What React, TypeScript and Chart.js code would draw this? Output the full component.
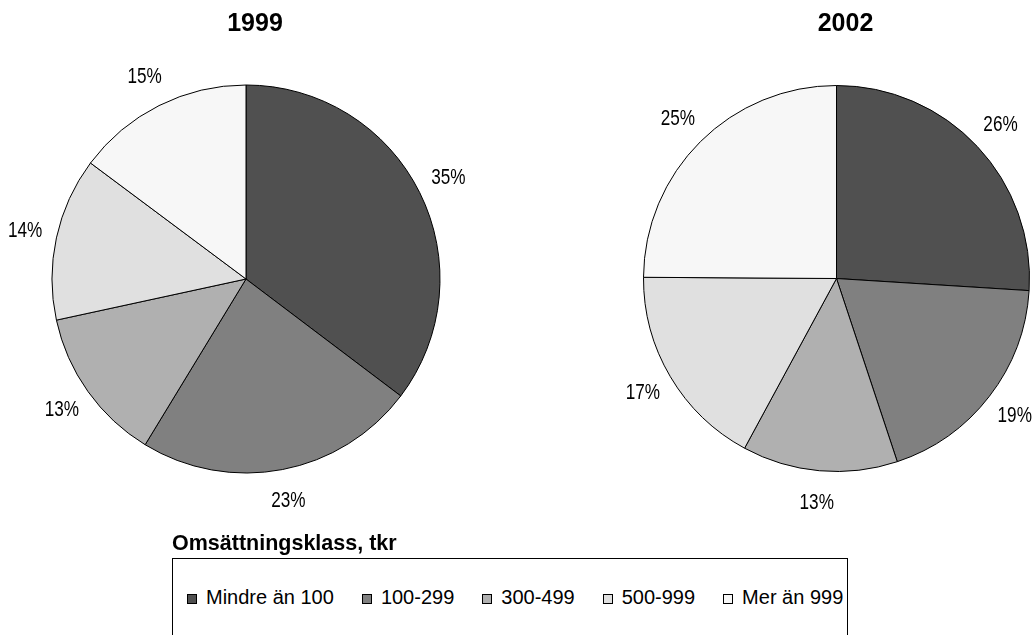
import React, { useEffect, useRef } from "react";
import { Chart, registerables } from "chart.js";

Chart.register(...registerables);

// ---- data (shares in %, labels show rounded values) ----
const categories = ["Mindre än 100", "100-299", "300-499", "500-999", "Mer än 999"];
const values1999 = [35.3, 23.4, 12.9, 13.6, 14.8];
const values2002 = [26.0, 18.9, 13.0, 17.2, 24.9];
const years = ["1999", "2002"];
const legendTitle = "Omsättningsklass, tkr";

// ---- styles ----
const colors = ["#505050", "#808080", "#b0b0b0", "#e0e0e0", "#f7f7f7"];
const FONT = '"Liberation Sans", Arial, Helvetica, sans-serif';

const pieDecor = {
  id: "pieDecor",
  afterDatasetsDraw(chart: any, _args: any, opts: any) {
    const ctx = chart.ctx;
    const meta = chart.getDatasetMeta(0);
    const data = chart.data.datasets[0].data;
    ctx.save();
    ctx.fillStyle = "#000";
    ctx.textAlign = "center";
    ctx.textBaseline = "middle";
    let cx = 0;
    meta.data.forEach((arc: any, i: number) => {
      const p = arc.getProps(["x", "y", "startAngle", "endAngle", "outerRadius"], true);
      cx = p.x;
      const mid = (p.startAngle + p.endAngle) / 2;
      const d = p.outerRadius + opts.labelOffset;
      const lx = p.x + Math.cos(mid) * d;
      const ly = p.y + Math.sin(mid) * d;
      ctx.save();
      ctx.translate(lx, ly);
      ctx.scale(opts.labelScaleX, 1);
      ctx.font = `22px ${FONT}`;
      ctx.fillText(`${Math.round(data[i])}%`, 0, 0);
      ctx.restore();
    });
    ctx.font = `bold 25px ${FONT}`;
    ctx.fillText(opts.title, cx + opts.titleDx, opts.titleY);
    ctx.restore();
  },
};

function PieCanvas(props: {
  values: number[];
  title: string;
  left: number;
  width: number;
  height: number;
  padding: { left: number; right: number; top: number; bottom: number };
  radius: number;
}) {
  const ref = useRef<HTMLCanvasElement | null>(null);
  useEffect(() => {
    if (!ref.current) return;
    const chart = new Chart(ref.current, {
      type: "pie",
      data: {
        labels: categories,
        datasets: [
          {
            data: props.values,
            backgroundColor: colors,
            borderColor: "#000",
            borderWidth: 1,
            radius: props.radius,
          } as any,
        ],
      },
      options: {
        animation: false,
        responsive: false,
        events: [],
        layout: { padding: props.padding },
        plugins: {
          legend: { display: false },
          tooltip: { enabled: false },
          pieDecor: { title: props.title, titleY: 24, titleDx: 9, labelOffset: 32, labelScaleX: 0.78 },
        } as any,
      },
      plugins: [pieDecor],
    });
    return () => chart.destroy();
  }, []);
  return (
    <canvas
      ref={ref}
      width={props.width}
      height={props.height}
      style={{ position: "absolute", left: props.left, top: 0, width: props.width, height: props.height }}
    />
  );
}

export default function App() {
  return (
    <div
      style={{
        position: "fixed",
        left: 0,
        top: 0,
        width: 1033,
        height: 635,
        overflow: "hidden",
        background: "#fff",
        fontFamily: FONT,
      }}
    >
      <PieCanvas
        values={values1999}
        title={years[0]}
        left={0}
        width={516}
        height={558}
        padding={{ left: 0, right: 24, top: 0, bottom: 0 }}
        radius={194}
      />
      <PieCanvas
        values={values2002}
        title={years[1]}
        left={600}
        width={433}
        height={557}
        padding={{ left: 40, right: 0, top: 0, bottom: 0 }}
        radius={193}
      />
      <div
        style={{
          position: "absolute",
          left: 172,
          top: 531,
          fontWeight: "bold",
          fontSize: 21.5,
          lineHeight: "24px",
          color: "#000",
          whiteSpace: "nowrap",
        }}
      >
        {legendTitle}
      </div>
      <div
        style={{
          position: "absolute",
          left: 172,
          top: 558,
          width: 676,
          height: 120,
          boxSizing: "border-box",
          border: "1px solid #000",
          background: "#fff",
        }}
      >
        <div
          style={{
            position: "absolute",
            left: 14,
            top: 26,
            display: "flex",
            alignItems: "center",
            whiteSpace: "nowrap",
          }}
        >
          {categories.map((c, i) => (
            <div key={c} style={{ display: "flex", alignItems: "center", marginRight: 28 }}>
              <span
                style={{
                  display: "inline-block",
                  width: 10,
                  height: 10,
                  boxSizing: "border-box",
                  border: "1px solid #000",
                  background: colors[i],
                  marginRight: 9,
                  marginTop: 3,
                }}
              />
              <span style={{ fontSize: 20, lineHeight: "24px", color: "#000" }}>{c}</span>
            </div>
          ))}
        </div>
      </div>
    </div>
  );
}
